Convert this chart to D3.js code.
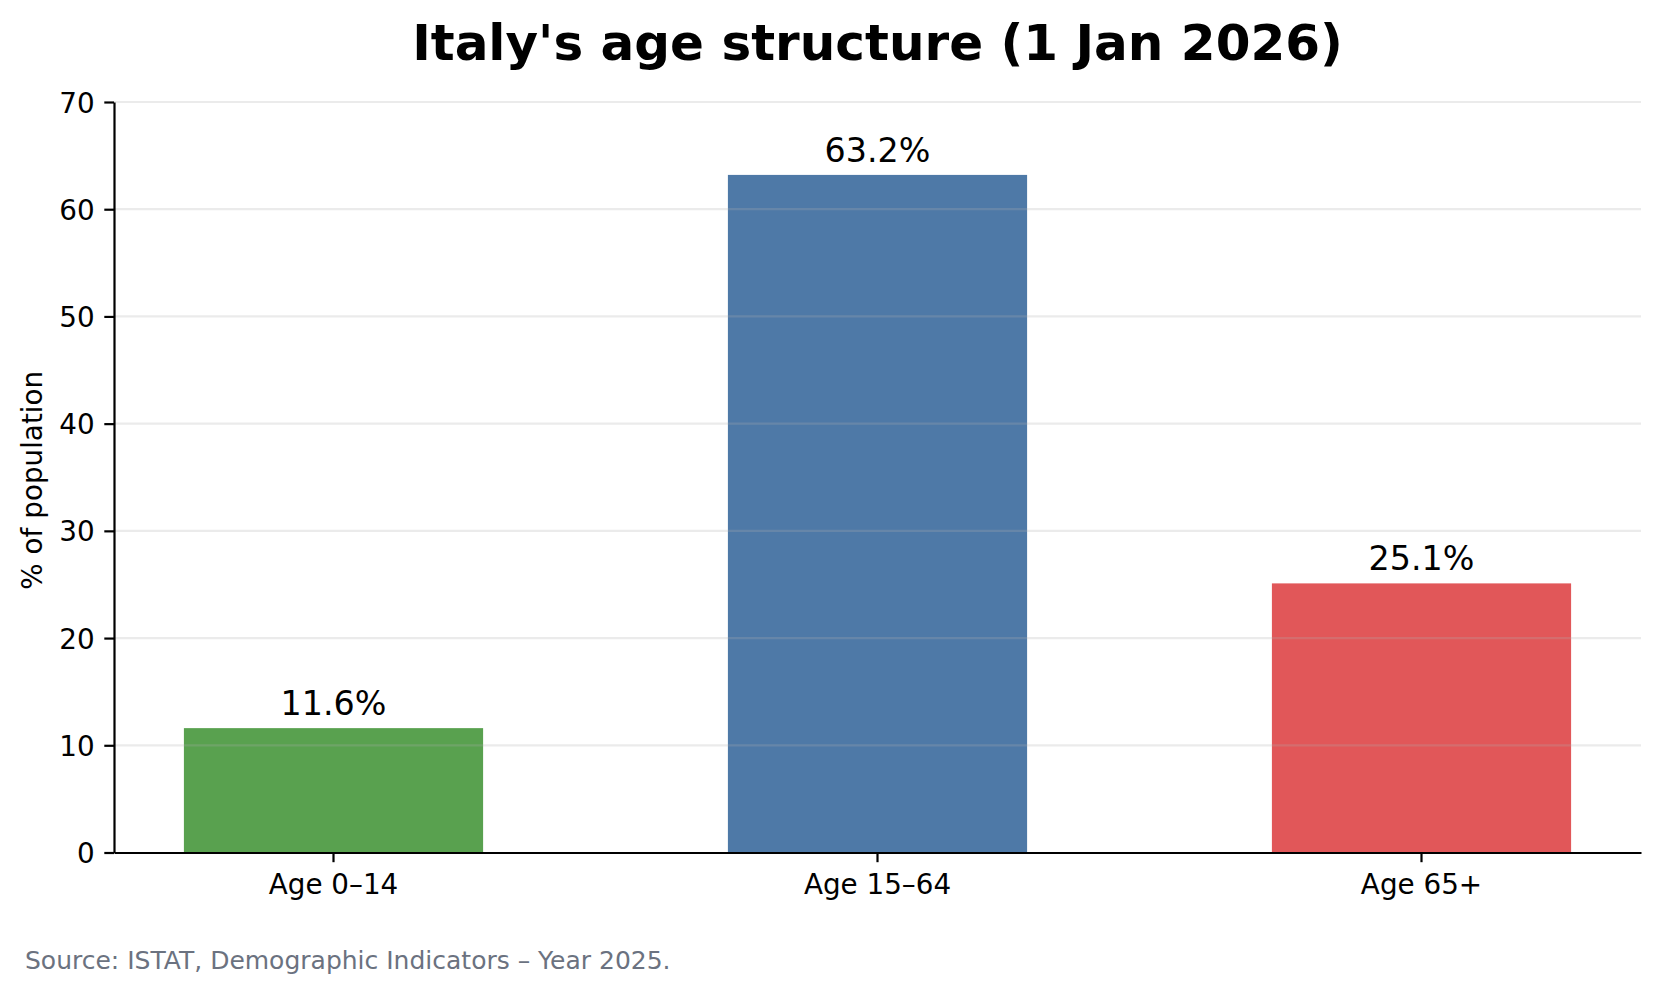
<!DOCTYPE html>
<html>
<head>
<meta charset="utf-8">
<script src="https://cdn.jsdelivr.net/npm/d3@7"></script>
<style>
  body { margin: 0; background: #fff; }
  svg { display: block; font-family: "DejaVu Sans", sans-serif; }
</style>
</head>
<body>
<svg id="chart" width="1660" height="995"></svg>
<script>
// ---- data ----
const categories = ["Age 0–14", "Age 15–64", "Age 65+"];
const values = [11.6, 63.2, 25.1];
const barColors = ["#59a14f", "#4e79a7", "#e15759"];
const yTicks = [0, 10, 20, 30, 40, 50, 60, 70];
const titleText = "Italy's age structure (1 Jan 2026)";
const yLabelText = "% of population";
const sourceText = "Source: ISTAT, Demographic Indicators – Year 2025.";

// ---- layout ----
const plotLeft = 114, plotRight = 1641, plotTop = 102, plotBottom = 852.5;
const svg = d3.select("#chart");

const x = d3.scaleBand()
  .domain(categories)
  .range([plotLeft, plotRight])
  .paddingInner(0.45)
  .paddingOuter(0.1285);

const y = d3.scaleLinear().domain([0, 70]).range([plotBottom, plotTop]);

// bars
svg.append("g").selectAll("rect")
  .data(categories)
  .join("rect")
  .attr("x", d => x(d))
  .attr("width", x.bandwidth())
  .attr("y", (d, i) => y(values[i]))
  .attr("height", (d, i) => y(0) - y(values[i]))
  .attr("fill", (d, i) => barColors[i]);

// grid (drawn over bars, semi-transparent)
svg.append("g").selectAll("line")
  .data(yTicks.filter(t => t > 0))
  .join("line")
  .attr("x1", plotLeft).attr("x2", plotRight)
  .attr("y1", d => y(d)).attr("y2", d => y(d))
  .attr("stroke", "#b0b0b0")
  .attr("stroke-opacity", 0.25)
  .attr("stroke-width", 2.2);

// y axis
const yAxis = svg.append("g")
  .attr("transform", `translate(${plotLeft},0)`)
  .call(d3.axisLeft(y).tickValues(yTicks).tickSize(9.7).tickSizeOuter(0).tickPadding(9.7));
yAxis.select(".domain").attr("stroke", "#000").attr("stroke-width", 2.2);
yAxis.selectAll(".tick line").attr("stroke", "#000").attr("stroke-width", 2.2);
yAxis.selectAll(".tick text")
  .attr("font-family", "DejaVu Sans, sans-serif")
  .attr("font-size", 27.8)
  .attr("fill", "#000")
  .attr("dy", "0.36em");

// x axis
const xAxis = svg.append("g")
  .attr("transform", `translate(0,${plotBottom})`)
  .call(d3.axisBottom(x).tickSize(9.7).tickSizeOuter(0).tickPadding(9.7));
xAxis.select(".domain").attr("stroke", "#000").attr("stroke-width", 2.2);
xAxis.selectAll(".tick line").attr("stroke", "#000").attr("stroke-width", 2.2);
xAxis.selectAll(".tick text")
  .attr("font-family", "DejaVu Sans, sans-serif")
  .attr("font-size", 27.8)
  .attr("fill", "#000")
  .attr("y", 41.5)
  .attr("dy", null);

// value labels
svg.append("g").selectAll("text")
  .data(categories)
  .join("text")
  .attr("x", d => x(d) + x.bandwidth() / 2)
  .attr("y", (d, i) => y(values[i]) - 13.3)
  .attr("text-anchor", "middle")
  .attr("font-size", 33.3)
  .attr("fill", "#000")
  .text((d, i) => values[i].toFixed(1) + "%");

// title
svg.append("text")
  .attr("x", (plotLeft + plotRight) / 2)
  .attr("y", 59.5)
  .attr("text-anchor", "middle")
  .attr("font-size", 50)
  .attr("font-weight", "bold")
  .attr("fill", "#000")
  .text(titleText);

// y label
svg.append("text")
  .attr("transform", `translate(42,${(plotTop + plotBottom) / 2 + 3}) rotate(-90)`)
  .attr("text-anchor", "middle")
  .attr("font-size", 27.8)
  .attr("fill", "#000")
  .text(yLabelText);

// source
svg.append("text")
  .attr("x", 25)
  .attr("y", 969.3)
  .attr("font-size", 25)
  .attr("fill", "#6b7280")
  .text(sourceText);
</script>
</body>
</html>
